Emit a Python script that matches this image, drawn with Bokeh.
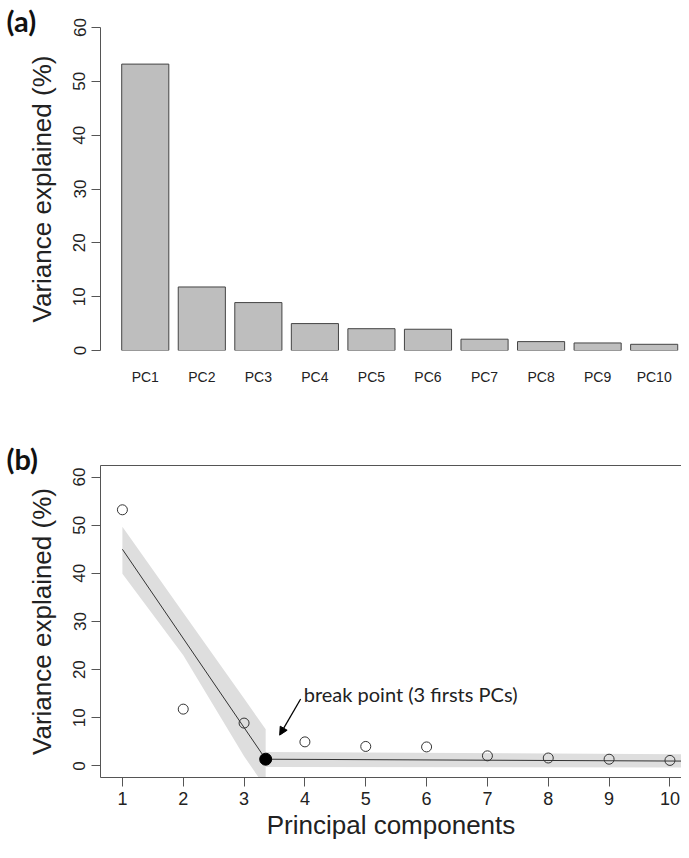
from bokeh.plotting import figure
from bokeh.models import Range1d, FixedTicker, LinearAxis, Arrow, NormalHead, Title
from bokeh.layouts import column
from bokeh.core.properties import value
from bokeh.embed import file_html
from bokeh.resources import INLINE

# ---------------- data ----------------
pc_labels = ["PC1", "PC2", "PC3", "PC4", "PC5", "PC6", "PC7", "PC8", "PC9", "PC10"]
pc_index = [1, 2, 3, 4, 5, 6, 7, 8, 9, 10]
variance = [53.2, 11.8, 8.9, 5.0, 4.05, 3.95, 2.1, 1.65, 1.4, 1.15]
y_ticks = [0, 10, 20, 30, 40, 50, 60]

# segmented regression fit (panel b)
fit_x = [1.0, 3.355, 10.36]
fit_y = [45.0, 1.4, 1.0]
break_x = [3.355]
break_y = [1.4]
band_left_x = [1.0, 2.0, 3.0, 3.355]
band_left_upper = [49.7, 31.8, 14.0, 7.6]
band_left_lower = [39.9, 23.0, 2.0, -4.5]
band_right_x = [3.355, 10.36]
band_right_upper = [2.9, 2.4]
band_right_lower = [-0.2, -0.35]

note_text = "break point (3 firsts PCs)"
note_pos = (3.98, 14.9)
arrow_from = (3.93, 13.9)
arrow_to = (3.585, 6.4)

# ---------------- styling ----------------
FONT = "Liberation Sans"
AX = "#555555"
TXT = "#222222"

# bar centres as in R barplot (width 1, space 0.2)
centers = [round(0.7 + 1.2 * i, 2) for i in range(len(variance))]


def panel_title(text):
    return Title(text=text, align="left", offset=-94, standoff=-20,
                 text_font="Lato", text_font_style="bold", text_font_size="29px",
                 text_color="#111111")


# ---------------- panel (a) ----------------
fa = figure(width=681, height=400, output_backend="svg", toolbar_location=None,
            x_range=Range1d(-0.25, 12.08), y_range=Range1d(0, 60),
            min_border_left=100, min_border_right=0, min_border_top=27,
            min_border_bottom=50)
fa.outline_line_color = None
fa.grid.visible = False
fa.add_layout(panel_title("(a)"), "above")

fa.vbar(x=centers, top=variance, width=1.0, bottom=0,
        fill_color="#BEBEBE", line_color="#444444", line_width=1)

ya = fa.yaxis[0]
ya.ticker = FixedTicker(ticks=y_ticks)
ya.major_label_orientation = "vertical"
ya.major_label_text_font = FONT
ya.major_label_text_font_size = "17px"
ya.major_label_text_color = TXT
ya.major_tick_out = 9
ya.major_tick_in = 0
ya.minor_tick_line_color = None
ya.axis_line_color = AX
ya.major_tick_line_color = AX
ya.axis_label = "Variance explained (%)"
ya.axis_label_text_font = FONT
ya.axis_label_text_font_size = "26px"
ya.axis_label_text_font_style = "normal"
ya.axis_label_text_color = TXT
ya.axis_label_standoff = 14
ya.major_label_standoff = 6

xa = fa.xaxis[0]
xa.ticker = FixedTicker(ticks=centers)
xa.major_label_overrides = {c: l for c, l in zip(centers, pc_labels)}
xa.axis_line_color = None
xa.major_tick_line_color = None
xa.minor_tick_line_color = None
xa.major_label_text_font = FONT
xa.major_label_text_font_size = "14px"
xa.major_label_text_color = TXT
xa.major_label_standoff = 12

# ---------------- panel (b) ----------------
fb = figure(width=681, height=442, output_backend="svg", toolbar_location=None,
            x_range=Range1d(0.64, 10.19), y_range=Range1d(-2.4, 62.4),
            min_border_left=100, min_border_right=0, min_border_top=65,
            min_border_bottom=62)
fb.outline_line_color = None
fb.grid.visible = False

fb.varea(x=band_left_x, y1=band_left_lower, y2=band_left_upper, fill_color="#DEDEDE")
fb.varea(x=band_right_x, y1=band_right_lower, y2=band_right_upper, fill_color="#DEDEDE")
fb.line(fit_x, fit_y, line_color="#333333", line_width=1)
fb.scatter(pc_index, variance, size=10, fill_color=None, line_color="#333333", line_width=1)
fb.scatter(break_x, break_y, size=12, fill_color="black", line_color="black")

fb.add_layout(Arrow(end=NormalHead(size=8, fill_color="black", line_color="black"),
                    x_start=arrow_from[0], y_start=arrow_from[1],
                    x_end=arrow_to[0], y_end=arrow_to[1],
                    line_color="black", line_width=1.3))
fb.text(x=[note_pos[0]], y=[note_pos[1]], text=[note_text], text_font=value("Lato"),
        text_font_size="20px", text_baseline="alphabetic", text_color=TXT)

yb = fb.yaxis[0]
yb.ticker = FixedTicker(ticks=y_ticks)
yb.major_label_orientation = "vertical"
yb.major_label_text_font = FONT
yb.major_label_text_font_size = "17px"
yb.major_label_text_color = TXT
yb.major_tick_out = 9
yb.major_tick_in = 0
yb.minor_tick_line_color = None
yb.axis_line_color = AX
yb.major_tick_line_color = AX
yb.axis_label = "Variance explained (%)"
yb.axis_label_text_font = FONT
yb.axis_label_text_font_size = "26px"
yb.axis_label_text_font_style = "normal"
yb.axis_label_text_color = TXT
yb.axis_label_standoff = 14
yb.major_label_standoff = 6

xb = fb.xaxis[0]
xb.ticker = FixedTicker(ticks=pc_index)
xb.major_label_text_font = FONT
xb.major_label_text_font_size = "18px"
xb.major_label_text_color = TXT
xb.major_tick_out = 9
xb.major_tick_in = 0
xb.minor_tick_line_color = None
xb.axis_line_color = AX
xb.major_tick_line_color = AX
xb.major_label_standoff = 5
xb.axis_label = "Principal components"
xb.axis_label_text_font = FONT
xb.axis_label_text_font_size = "26px"
xb.axis_label_text_font_style = "normal"
xb.axis_label_text_color = TXT
xb.axis_label_standoff = 2

top_axis = LinearAxis(ticker=FixedTicker(ticks=[]), axis_line_color=AX,
                      major_tick_line_color=None, minor_tick_line_color=None,
                      major_label_text_color=None)
fb.add_layout(top_axis, "above")
fb.add_layout(panel_title("(b)"), "above")

layout = column(fa, fb)
open("out.html", "w").write(file_html(layout, INLINE))
